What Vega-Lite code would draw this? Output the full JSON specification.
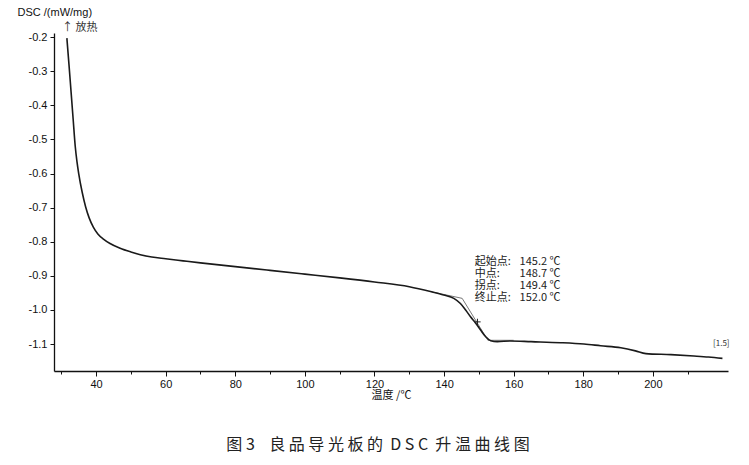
{
  "$schema": "https://vega.github.io/schema/vega-lite/v6.json",
  "autosize": "none",
  "width": 674,
  "height": 338,
  "padding": {"left": 54, "top": 33, "right": 21, "bottom": 94},
  "background": "white",
  "config": {
    "view": {"stroke": null},
    "axis": {"grid": false, "domainColor": "#111", "tickColor": "#111", "labelColor": "#111", "labelFont": "Liberation Sans", "labelFontSize": 11, "domainWidth": 1.3, "tickWidth": 1}
  },
  "title": {
    "text": "图\u00a03\u00a0\u00a0\u00a0\u00a0良\u00a0品\u00a0导\u00a0光\u00a0板\u00a0的\u00a0\u00a0D\u00a0S\u00a0C\u00a0\u00a0升\u00a0温\u00a0曲\u00a0线\u00a0图",
    "orient": "bottom",
    "anchor": "middle",
    "dx": -13,
    "offset": 37,
    "font": "Noto Sans CJK SC",
    "fontSize": 16,
    "fontWeight": "normal",
    "color": "#222"
  },
  "datasets": {
    "curve": [
      {"T": 31.6, "v": -0.203}, {"T": 32.2, "v": -0.28}, {"T": 32.8, "v": -0.36}, {"T": 33.4, "v": -0.44},
      {"T": 34.0, "v": -0.52}, {"T": 34.5, "v": -0.565}, {"T": 35.0, "v": -0.6}, {"T": 36.0, "v": -0.655},
      {"T": 37.0, "v": -0.698}, {"T": 38.0, "v": -0.73}, {"T": 39.2, "v": -0.757}, {"T": 40.5, "v": -0.777},
      {"T": 42.1, "v": -0.792}, {"T": 44.0, "v": -0.805}, {"T": 46.9, "v": -0.819}, {"T": 50.0, "v": -0.83},
      {"T": 52.7, "v": -0.838}, {"T": 56.0, "v": -0.845}, {"T": 60.0, "v": -0.85}, {"T": 65.0, "v": -0.856},
      {"T": 70.0, "v": -0.862}, {"T": 80.0, "v": -0.873}, {"T": 90.0, "v": -0.884}, {"T": 100.0, "v": -0.895},
      {"T": 110.0, "v": -0.906}, {"T": 120.0, "v": -0.918}, {"T": 130.0, "v": -0.932}, {"T": 136.1, "v": -0.946},
      {"T": 139.9, "v": -0.956}, {"T": 142.8, "v": -0.966}, {"T": 144.7, "v": -0.981}, {"T": 146.2, "v": -1.0},
      {"T": 147.6, "v": -1.02}, {"T": 149.1, "v": -1.039}, {"T": 150.5, "v": -1.059}, {"T": 151.9, "v": -1.078},
      {"T": 153.4, "v": -1.09}, {"T": 155.3, "v": -1.093}, {"T": 159.1, "v": -1.091}, {"T": 165.0, "v": -1.093},
      {"T": 173.5, "v": -1.096}, {"T": 180.2, "v": -1.1}, {"T": 185.0, "v": -1.105},
      {"T": 190.8, "v": -1.111}, {"T": 195.0, "v": -1.12}, {"T": 198.0, "v": -1.128}, {"T": 205.2, "v": -1.131},
      {"T": 211.8, "v": -1.135}, {"T": 216.0, "v": -1.138}, {"T": 220.0, "v": -1.142}
    ],
    "tangent": [
      {"T": 136.0, "v": -0.946}, {"T": 145.2, "v": -0.966}, {"T": 152.6, "v": -1.089}, {"T": 160.0, "v": -1.089}
    ],
    "inflection": [{"T": 149.6, "v": -1.035}],
    "labels": [
      {"T": 148.8, "v": -0.86, "t": "起始点:"},
      {"T": 148.8, "v": -0.895, "t": "中点:"},
      {"T": 148.8, "v": -0.93, "t": "拐点:"},
      {"T": 148.8, "v": -0.965, "t": "终止点:"},
      {"T": 161.7, "v": -0.86, "t": "145.2 ℃"},
      {"T": 161.7, "v": -0.895, "t": "148.7 ℃"},
      {"T": 161.7, "v": -0.93, "t": "149.4 ℃"},
      {"T": 161.7, "v": -0.965, "t": "152.0 ℃"}
    ],
    "notes": [
      {"T": 30.2, "v": -0.174, "t": "↑ 放热", "s": 11},
      {"T": 217.3, "v": -1.1, "t": "[1.5]", "s": 8}
    ]
  },
  "encoding": {
    "x": {
      "field": "T", "type": "quantitative",
      "scale": {"domain": [27.9, 221.6], "nice": false, "zero": false},
      "axis": {
        "values": [30, 40, 50, 60, 70, 80, 90, 100, 110, 120, 130, 140, 150, 160, 170, 180, 190, 200, 210],
        "labelExpr": "datum.value % 20 === 0 ? datum.value : ''",
        "tickSize": {"condition": {"test": "datum.value % 20 === 0", "value": 5}, "value": 3},
        "labelPadding": 2,
        "title": "温度 /℃",
        "titleFont": "Noto Sans CJK SC",
        "titleFontSize": 11,
        "titleFontWeight": "normal",
        "titleColor": "#111",
        "titlePadding": 0
      }
    },
    "y": {
      "field": "v", "type": "quantitative",
      "scale": {"domain": [-1.179, -0.188], "nice": false, "zero": false},
      "axis": {
        "values": [-0.2, -0.3, -0.4, -0.5, -0.6, -0.7, -0.8, -0.9, -1.0, -1.1],
        "labelExpr": "(datum.value < 0 ? '-' : '') + format(abs(datum.value), '.1f')",
        "tickSize": 4,
        "labelPadding": 3,
        "title": "DSC /(mW/mg)",
        "titleAngle": 0,
        "titleAlign": "left",
        "titleBaseline": "middle",
        "titleX": -37,
        "titleY": -21,
        "titleFont": "Liberation Sans",
        "titleFontSize": 11,
        "titleFontWeight": "normal",
        "titleColor": "#111"
      }
    }
  },
  "layer": [
    {
      "data": {"name": "tangent"},
      "mark": {"type": "line", "color": "#555", "strokeWidth": 0.8}
    },
    {
      "data": {"name": "curve"},
      "mark": {"type": "line", "color": "#1a1a1a", "strokeWidth": 1.6, "interpolate": "monotone"}
    },
    {
      "data": {"name": "inflection"},
      "mark": {"type": "point", "shape": "M-1,0L1,0M0,-1L0,1", "size": 40, "filled": false, "strokeWidth": 1, "color": "#222", "opacity": 1}
    },
    {
      "data": {"name": "labels"},
      "mark": {"type": "text", "align": "left", "baseline": "middle", "font": "Noto Sans CJK SC", "fontSize": 11, "color": "#222"},
      "encoding": {"text": {"field": "t"}}
    },
    {
      "data": {"name": "notes"},
      "mark": {"type": "text", "align": "left", "baseline": "middle", "font": "Noto Sans CJK SC", "color": "#333"},
      "encoding": {"text": {"field": "t"}, "size": {"field": "s", "type": "quantitative", "scale": null}}
    }
  ]
}
